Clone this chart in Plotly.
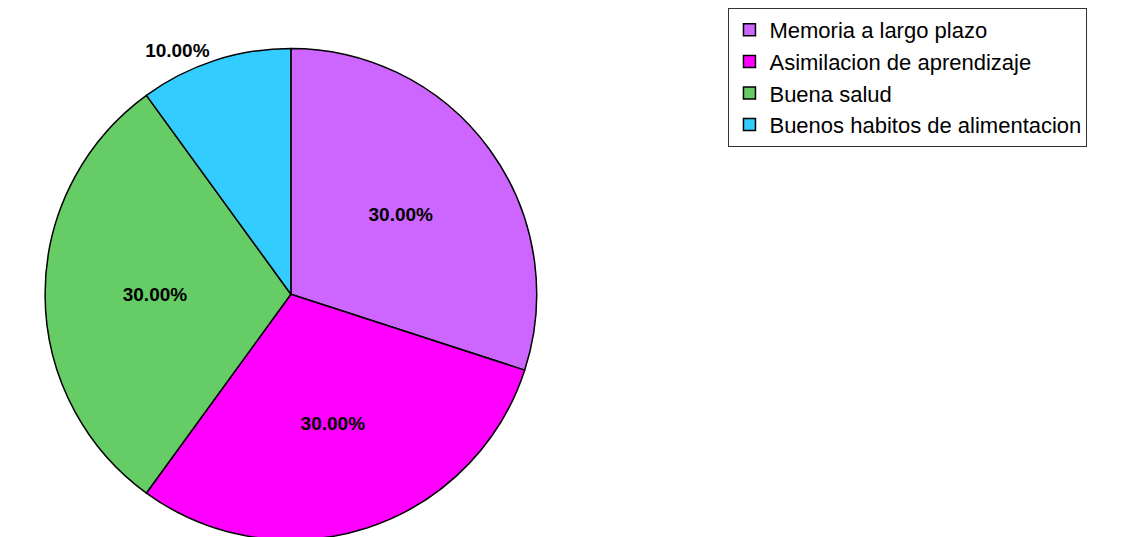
import plotly.graph_objects as go

labels = ["Memoria a largo plazo", "Asimilacion de aprendizaje", "Buena salud", "Buenos habitos de alimentacion"]
values = [30, 30, 30, 10]
colors = ["#CC66FF", "#FF00FF", "#66CC66", "#33CCFF"]
text_positions = ["inside", "inside", "inside", "outside"]

fig = go.Figure(go.Pie(
    labels=labels,
    values=values,
    sort=False,
    direction="clockwise",
    rotation=0,
    marker=dict(colors=colors, line=dict(color="black", width=1.5)),
    texttemplate="%{percent:.2%}",
    textposition=text_positions,
    insidetextorientation="horizontal",
    textfont=dict(family="Liberation Sans, Arial, sans-serif", size=19, color="black", weight="bold"),
    domain=dict(x=[0.0, 0.474], y=[0.0, 0.94]),
    hoverinfo="label+percent",
))

fig.update_layout(
    width=1126, height=537,
    margin=dict(l=0, r=0, t=0, b=0),
    paper_bgcolor="white",
    plot_bgcolor="white",
    showlegend=True,
    legend=dict(
        x=0.633, y=1.018, xanchor="left", yanchor="top",
        bordercolor="#333333", borderwidth=1,
        font=dict(family="Liberation Sans, Arial, sans-serif", size=22, color="black"),
        traceorder="normal",
        itemwidth=30,
        tracegroupgap=0,
    ),
)

fig.write_html("out.html")
